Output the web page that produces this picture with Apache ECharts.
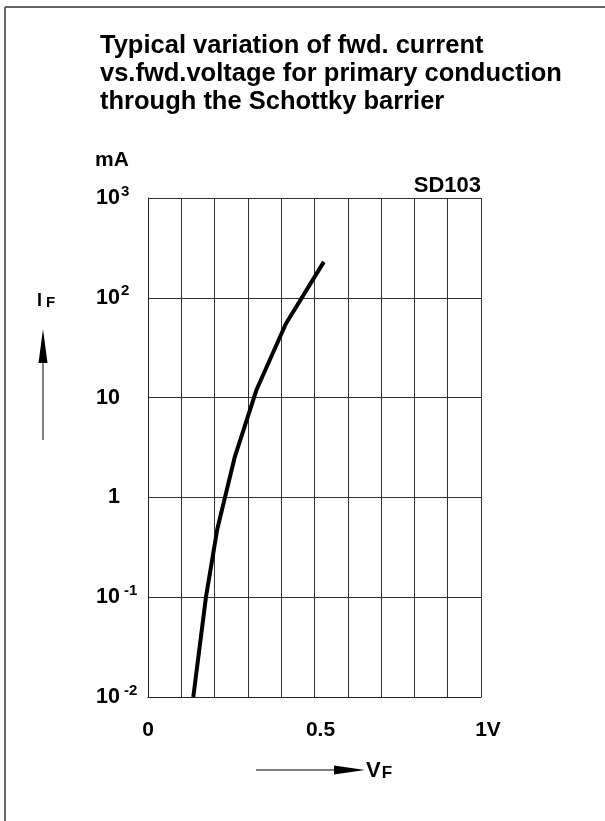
<!DOCTYPE html>
<html>
<head>
<meta charset="utf-8">
<script src="https://cdn.jsdelivr.net/npm/echarts@6/dist/echarts.min.js"></script>
<style>
html,body{margin:0;padding:0;background:#fff;}
#chart{width:605px;height:821px;}
</style>
</head>
<body>
<div id="chart"></div>
<script>
// ---- data ----
const titleLines = ['Typical variation of fwd. current', 'vs.fwd.voltage for primary conduction', 'through the Schottky barrier'];
const deviceName = 'SD103';
const yUnit = 'mA';
// forward voltage (V) and forward current (mA)
const vfValues = [0.136, 0.174, 0.208, 0.26, 0.326, 0.414, 0.528];
const ifValues = [0.01, 0.1, 0.48, 2.5, 12, 55, 229];
// y tick labels by decade exponent
const yExps = [-2, -1, 0, 1, 2, 3];
const yBase = ['10', '10', '1', '10', '10', '10'];
const ySup = ['-2', '-1', '', '', '2', '3'];
// x tick labels
const xTickValues = [0, 0.5, 1];
const xTickLabels = ['0', '0.5', '1V'];

const FONT = '"Liberation Sans", Arial, sans-serif';
const chart = echarts.init(document.getElementById('chart'), null, {renderer: 'canvas'});

function yLabel(v) {
  const e = Math.round(Math.log10(v));
  const i = yExps.indexOf(e);
  if (i < 0) return '';
  let s = '';
  if (yBase[i].length === 1) s += '{sp| }';
  s += '{b|' + yBase[i] + '}';
  if (ySup[i]) s += '{' + (ySup[i].length > 1 ? 's2' : 's') + '|' + ySup[i] + '}';
  return s;
}
function xLabel(v) {
  for (let i = 0; i < xTickValues.length; i++) {
    if (Math.abs(v - xTickValues[i]) < 1e-6) {
      return '{x' + i + '|' + xTickLabels[i] + '}';
    }
  }
  return '';
}

const option = {
  backgroundColor: '#fff',
  animation: false,
  title: {
    text: titleLines.join('\n'),
    left: 100,
    top: 32,
    padding: 0,
    textStyle: {fontFamily: FONT, fontSize: 25.5, fontWeight: 'bold', color: '#000', lineHeight: 28}
  },
  grid: {left: 148, right: 124, top: 198, bottom: 124},
  xAxis: {
    type: 'value', min: 0, max: 1, interval: 0.1,
    axisLine: {show: true, lineStyle: {color: '#222', width: 1}},
    axisTick: {show: false},
    splitLine: {show: true, lineStyle: {color: '#333', width: 1}},
    axisLabel: {
      margin: 23,
      formatter: xLabel,
      rich: {
        x0: {fontFamily: FONT, fontSize: 21, fontWeight: 'bold', color: '#000'},
        x1: {fontFamily: FONT, fontSize: 21, fontWeight: 'bold', color: '#000', padding: [0, 0, 0, 12]},
        x2: {fontFamily: FONT, fontSize: 21, fontWeight: 'bold', color: '#000', padding: [0, 0, 0, 14]}
      }
    }
  },
  yAxis: {
    type: 'log', logBase: 10, min: 0.01, max: 1000,
    axisLine: {show: true, lineStyle: {color: '#222', width: 1}},
    axisTick: {show: false},
    splitLine: {show: true, lineStyle: {color: '#333', width: 1}},
    minorTick: {show: false},
    axisLabel: {
      margin: 52,
      align: 'left',
      formatter: yLabel,
      rich: {
        b: {fontFamily: FONT, fontSize: 21.5, fontWeight: 'bold', color: '#000', lineHeight: 28},
        s: {fontFamily: FONT, fontSize: 15, fontWeight: 'bold', color: '#000', lineHeight: 12, verticalAlign: 'top', padding: [0, 0, 0, 1]},
        s2: {fontFamily: FONT, fontSize: 15, fontWeight: 'bold', color: '#000', lineHeight: 12, verticalAlign: 'top', padding: [0, 0, 0, 4]},
        sp: {width: 12}
      }
    }
  },
  series: [{
    type: 'line',
    data: vfValues.map((v, i) => [v, ifValues[i]]),
    showSymbol: false,
    smooth: false,
    lineStyle: {color: '#000', width: 4},
    z: 5
  }],
  graphic: [
    {type: 'line', shape: {x1: 5, y1: 7, x2: 5, y2: 821}, style: {stroke: '#666', lineWidth: 2}},
    {type: 'line', shape: {x1: 5, y1: 7, x2: 605, y2: 7}, style: {stroke: '#666', lineWidth: 2}},
    {type: 'text', left: 95, top: 150, style: {text: yUnit, font: 'bold 21px ' + FONT, fill: '#000'}},
    {type: 'text', right: 124, top: 175, style: {text: deviceName, font: 'bold 22px ' + FONT, fill: '#000'}},
    {type: 'text', left: 37, top: 292, style: {
      text: '{a|I}{b|F}',
      rich: {
        a: {fontFamily: FONT, fontSize: 18, fontWeight: 'bold', fill: '#000', lineHeight: 18},
        b: {fontFamily: FONT, fontSize: 15, fontWeight: 'bold', fill: '#000', lineHeight: 15, verticalAlign: 'bottom', padding: [0, 0, 0, 4]}
      }
    }},
    {type: 'line', shape: {x1: 43, y1: 440, x2: 43, y2: 360}, style: {stroke: '#000', lineWidth: 1}},
    {type: 'polygon', shape: {points: [[43, 329], [38.5, 363], [47.5, 363]]}, style: {fill: '#000'}},
    {type: 'line', shape: {x1: 256, y1: 770, x2: 336, y2: 770}, style: {stroke: '#000', lineWidth: 1}},
    {type: 'polygon', shape: {points: [[365, 770], [334, 765.5], [334, 774.5]]}, style: {fill: '#000'}},
    {type: 'text', left: 366, top: 760, style: {
      text: '{a|V}{b|F}',
      rich: {
        a: {fontFamily: FONT, fontSize: 22, fontWeight: 'bold', fill: '#000', lineHeight: 22},
        b: {fontFamily: FONT, fontSize: 17, fontWeight: 'bold', fill: '#000', lineHeight: 17, verticalAlign: 'bottom', padding: [0, 0, 0, 1]}
      }
    }}
  ]
};
chart.setOption(option);
</script>
</body>
</html>
